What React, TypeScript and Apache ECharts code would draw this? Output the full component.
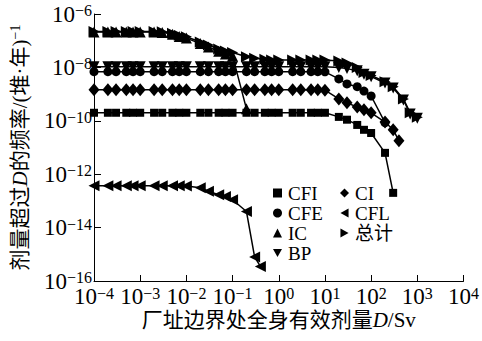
import React, { useEffect, useRef } from "react";
import * as echarts from "echarts";

const SERIF = "'Liberation Serif', 'Noto Sans CJK SC', serif";

// dose (Sv), frequency (/reactor-year)
const cfiData: [number, number][] = [
  [1e-4, 2e-10], [2e-4, 2e-10], [3e-4, 2e-10], [5e-4, 2e-10], [7e-4, 2e-10],
  [1e-3, 2e-10], [2e-3, 2e-10], [3e-3, 2e-10], [5e-3, 2e-10], [7e-3, 2e-10],
  [1e-2, 2e-10], [2e-2, 2e-10], [3e-2, 2e-10], [5e-2, 2e-10], [7e-2, 2e-10],
  [0.1, 2e-10], [0.2, 2e-10], [0.3, 2e-10], [0.5, 2e-10], [0.7, 2e-10],
  [1, 2e-10], [2, 2e-10], [3, 2e-10], [5, 2e-10], [7, 2e-10], [10, 2e-10],
  [20, 1.4e-10], [30, 1.1e-10], [50, 7e-11], [70, 4.6e-11], [100, 3.5e-11],
  [200, 6.3e-12], [300, 2e-13],
];

const cfeData: [number, number][] = [
  [1e-4, 6.9e-9], [2e-4, 6.9e-9], [3e-4, 6.9e-9], [5e-4, 6.9e-9], [7e-4, 6.9e-9],
  [1e-3, 6.9e-9], [2e-3, 6.9e-9], [3e-3, 6.9e-9], [5e-3, 6.9e-9], [7e-3, 6.9e-9],
  [1e-2, 6.9e-9], [2e-2, 6.9e-9], [3e-2, 6.9e-9], [5e-2, 6.9e-9], [7e-2, 6.9e-9],
  [0.1, 6.9e-9], [0.2, 6.9e-9], [0.3, 6.9e-9], [0.5, 6.9e-9], [0.7, 6.9e-9],
  [1, 6.9e-9], [2, 6.9e-9], [3, 6.9e-9], [5, 6.9e-9], [7, 6.9e-9], [10, 6.8e-9],
  [20, 3.7e-9], [30, 2.4e-9], [50, 1.9e-9], [70, 1.3e-9], [100, 8.5e-10],
  [200, 8.5e-11],
];

const icData: [number, number][] = [
  [1e-4, 2.1e-7], [2e-4, 2.1e-7], [3e-4, 2.1e-7], [5e-4, 2.1e-7], [7e-4, 2.1e-7],
  [1e-3, 2.1e-7], [2e-3, 2.1e-7], [3e-3, 2.05e-7], [5e-3, 1.75e-7], [7e-3, 1.45e-7],
  [1e-2, 1.25e-7], [2e-2, 7.8e-8], [3e-2, 5.8e-8], [5e-2, 4e-8], [7e-2, 3.2e-8],
  [0.1, 2.7e-8], [0.2, 2.8e-10],
];

const bpData: [number, number][] = [
  [1e-4, 1.05e-8], [2e-4, 1.05e-8], [3e-4, 1.05e-8], [5e-4, 1.05e-8], [7e-4, 1.05e-8],
  [1e-3, 1.05e-8], [2e-3, 1.05e-8], [3e-3, 1.05e-8], [5e-3, 1.05e-8], [7e-3, 1.05e-8],
  [1e-2, 1.05e-8], [2e-2, 1.05e-8], [3e-2, 1.05e-8], [5e-2, 1.05e-8], [7e-2, 1.05e-8],
  [0.1, 1.05e-8], [0.2, 1.05e-8], [0.3, 1.05e-8], [0.5, 1.05e-8], [0.7, 1.05e-8],
  [1, 1.05e-8], [2, 1.05e-8], [3, 1.05e-8], [5, 1.05e-8], [7, 1.05e-8], [10, 1.05e-8],
  [20, 1e-8], [30, 9e-9], [50, 7.5e-9], [70, 5.5e-9], [100, 4.5e-9],
  [200, 2.6e-9], [300, 1.7e-9], [500, 6e-10], [700, 1.8e-10], [1000, 1.25e-10],
];

const ciData: [number, number][] = [
  [1e-4, 1.45e-9], [2e-4, 1.45e-9], [3e-4, 1.45e-9], [5e-4, 1.45e-9], [7e-4, 1.45e-9],
  [1e-3, 1.45e-9], [2e-3, 1.45e-9], [3e-3, 1.45e-9], [5e-3, 1.45e-9], [7e-3, 1.45e-9],
  [1e-2, 1.45e-9], [2e-2, 1.45e-9], [3e-2, 1.45e-9], [5e-2, 1.45e-9], [7e-2, 1.45e-9],
  [0.1, 1.45e-9], [0.2, 1.45e-9], [0.3, 1.45e-9], [0.5, 1.45e-9], [0.7, 1.45e-9],
  [1, 1.45e-9], [2, 1.45e-9], [3, 1.45e-9], [5, 1.45e-9], [7, 1.45e-9], [10, 1.4e-9],
  [20, 6.6e-10], [30, 4.7e-10], [50, 3.3e-10], [70, 2.6e-10], [100, 2e-10],
  [200, 9e-11], [300, 4.6e-11], [400, 1.8e-11],
];

const cflData: [number, number][] = [
  [1e-4, 3.7e-13], [2e-4, 3.7e-13], [3e-4, 3.7e-13], [5e-4, 3.7e-13], [7e-4, 3.7e-13],
  [1e-3, 3.7e-13], [2e-3, 3.7e-13], [3e-3, 3.7e-13], [5e-3, 3.7e-13], [7e-3, 3.7e-13],
  [1e-2, 3.6e-13], [2e-2, 3.1e-13], [3e-2, 2.3e-13], [5e-2, 1.7e-13], [7e-2, 1.45e-13],
  [0.1, 1.1e-13], [0.2, 4e-14], [0.3, 8e-16], [0.4, 3.5e-16],
];

const totalData: [number, number][] = [
  [1e-4, 2.2e-7], [2e-4, 2.2e-7], [3e-4, 2.2e-7], [5e-4, 2.2e-7], [7e-4, 2.2e-7],
  [1e-3, 2.2e-7], [2e-3, 2.2e-7], [3e-3, 2.15e-7], [5e-3, 1.9e-7], [7e-3, 1.6e-7],
  [1e-2, 1.4e-7], [2e-2, 9e-8], [3e-2, 6.9e-8], [5e-2, 4.9e-8], [7e-2, 4.1e-8],
  [0.1, 3.6e-8], [0.2, 2.5e-8], [0.3, 2.2e-8], [0.5, 2e-8], [0.7, 1.9e-8],
  [1, 1.9e-8], [2, 1.9e-8], [3, 1.9e-8], [5, 1.9e-8], [7, 1.9e-8], [10, 1.9e-8],
  [20, 1.75e-8], [30, 1.45e-8], [50, 1e-8], [70, 6.5e-9], [100, 5e-9],
  [200, 2.9e-9], [300, 1.9e-9], [500, 6.6e-10], [700, 2e-10], [1000, 1.35e-10],
];

const legendLeftCol = ["CFI", "CFE", "IC", "BP"];
const legendRightCol = ["CI", "CFL", "总计"];

const ICON_DOWN = "path://M0,0L10,0L5,9Z";
const ICON_LEFT = "path://M9,0L9,10L0,5Z";
const ICON_RIGHT = "path://M0,0L9,5L0,10Z";

function powLabel(v: number) {
  const e = Math.round(Math.log10(v));
  const s = (e < 0 ? "\u2212" : "") + Math.abs(e);
  return `{base|10}{sup|${s}}`;
}

const labelRich = {
  base: { fontSize: 23, fontFamily: SERIF, color: "#000" },
  sup: { fontSize: 16, fontFamily: SERIF, color: "#000", verticalAlign: "top" },
};

export default function App() {
  const ref = useRef<HTMLDivElement>(null);
  useEffect(() => {
    if (!ref.current) return;
    const chart = echarts.init(ref.current, undefined, { renderer: "svg" });
    const line = (name: string, data: [number, number][], symbol: string, size: any, rotate = 0) => ({
      name,
      type: "line",
      data,
      symbol,
      symbolSize: size,
      symbolRotate: rotate,
      showAllSymbol: true,
      color: "#000",
      itemStyle: { color: "#000" },
      lineStyle: { color: "#000", width: 1.5 },
      clip: false,
    });
    const legendBase = {
      orient: "vertical",
      itemWidth: 9,
      itemHeight: 9,
      itemGap: 0,
      selectedMode: false,
      textStyle: { fontSize: 19, fontFamily: SERIF, color: "#000", lineHeight: 20, padding: [0, 0, 0, 1] },
      itemStyle: { color: "#000" },
    };
    chart.setOption({
      animation: false,
      backgroundColor: "#fff",
      grid: { left: 87, right: 15, top: 14, bottom: 60, containLabel: false },
      legend: [
        { ...legendBase, left: 268, top: 178, data: [
          { name: legendLeftCol[0], icon: "rect" },
          { name: legendLeftCol[1], icon: "circle" },
          { name: legendLeftCol[2], icon: "triangle" },
          { name: legendLeftCol[3], icon: ICON_DOWN },
        ] },
        { ...legendBase, left: 335, top: 178, data: [
          { name: legendRightCol[0], icon: "diamond" },
          { name: legendRightCol[1], icon: ICON_LEFT },
          { name: legendRightCol[2], icon: ICON_RIGHT },
        ] },
      ],
      xAxis: {
        type: "log",
        logBase: 10,
        min: 1e-4,
        max: 1e4,
        interval: 1,
        name: "{a|厂址边界处全身有效剂量}{i|D}{a|/Sv}",
        nameLocation: "middle",
        nameGap: 28,
        nameMoveOverlap: false,
        nameTextStyle: {
          rich: {
            a: { fontSize: 21, fontFamily: SERIF, color: "#000" },
            i: { fontSize: 21, fontFamily: SERIF, fontStyle: "italic", color: "#000" },
          },
        },
        axisLine: { show: true, lineStyle: { color: "#000", width: 1 } },
        axisTick: { show: true, inside: true, length: 6, lineStyle: { color: "#000" } },
        minorTick: { show: false },
        splitLine: { show: false },
        axisLabel: {
          margin: 4, fontSize: 23, fontFamily: SERIF, color: "#000",
          formatter: powLabel, rich: labelRich, showMinLabel: true, showMaxLabel: true,
        },
      },
      yAxis: {
        type: "log",
        logBase: 10,
        min: 1e-16,
        max: 1e-6,
        interval: 2,
        name: "{a|剂量超过}{i|D}{a|的频率/(堆·年)}{s|\u22121}",
        nameLocation: "middle",
        nameGap: 64,
        nameMoveOverlap: false,
        nameTextStyle: {
          rich: {
            a: { fontSize: 21, fontFamily: SERIF, color: "#000", lineHeight: 22, verticalAlign: "bottom" },
            i: { fontSize: 21, fontFamily: SERIF, fontStyle: "italic", color: "#000", lineHeight: 22, verticalAlign: "bottom" },
            s: { fontSize: 14, fontFamily: SERIF, color: "#000", lineHeight: 14, verticalAlign: "top" },
          },
        },
        axisLine: { show: true, lineStyle: { color: "#000", width: 1 } },
        axisTick: { show: true, inside: true, length: 7, lineStyle: { color: "#000" } },
        splitLine: { show: false },
        axisLabel: {
          margin: 2, fontSize: 23, fontFamily: SERIF, color: "#000",
          formatter: powLabel, rich: labelRich, showMinLabel: true, showMaxLabel: true,
        },
      },
      series: [
        line("CFL", cflData, "triangle", 11, 90),
        line("CFI", cfiData, "rect", 8),
        line("CI", ciData, "diamond", [11, 13]),
        line("CFE", cfeData, "circle", 9),
        line("BP", bpData, "triangle", 11, 180),
        line("IC", icData, "triangle", 11),
        line("总计", totalData, "triangle", 11, -90),
      ],
    });
    return () => chart.dispose();
  }, []);
  return <div ref={ref} style={{ position: "fixed", left: 0, top: 0, width: 482, height: 341 }} />;
}
